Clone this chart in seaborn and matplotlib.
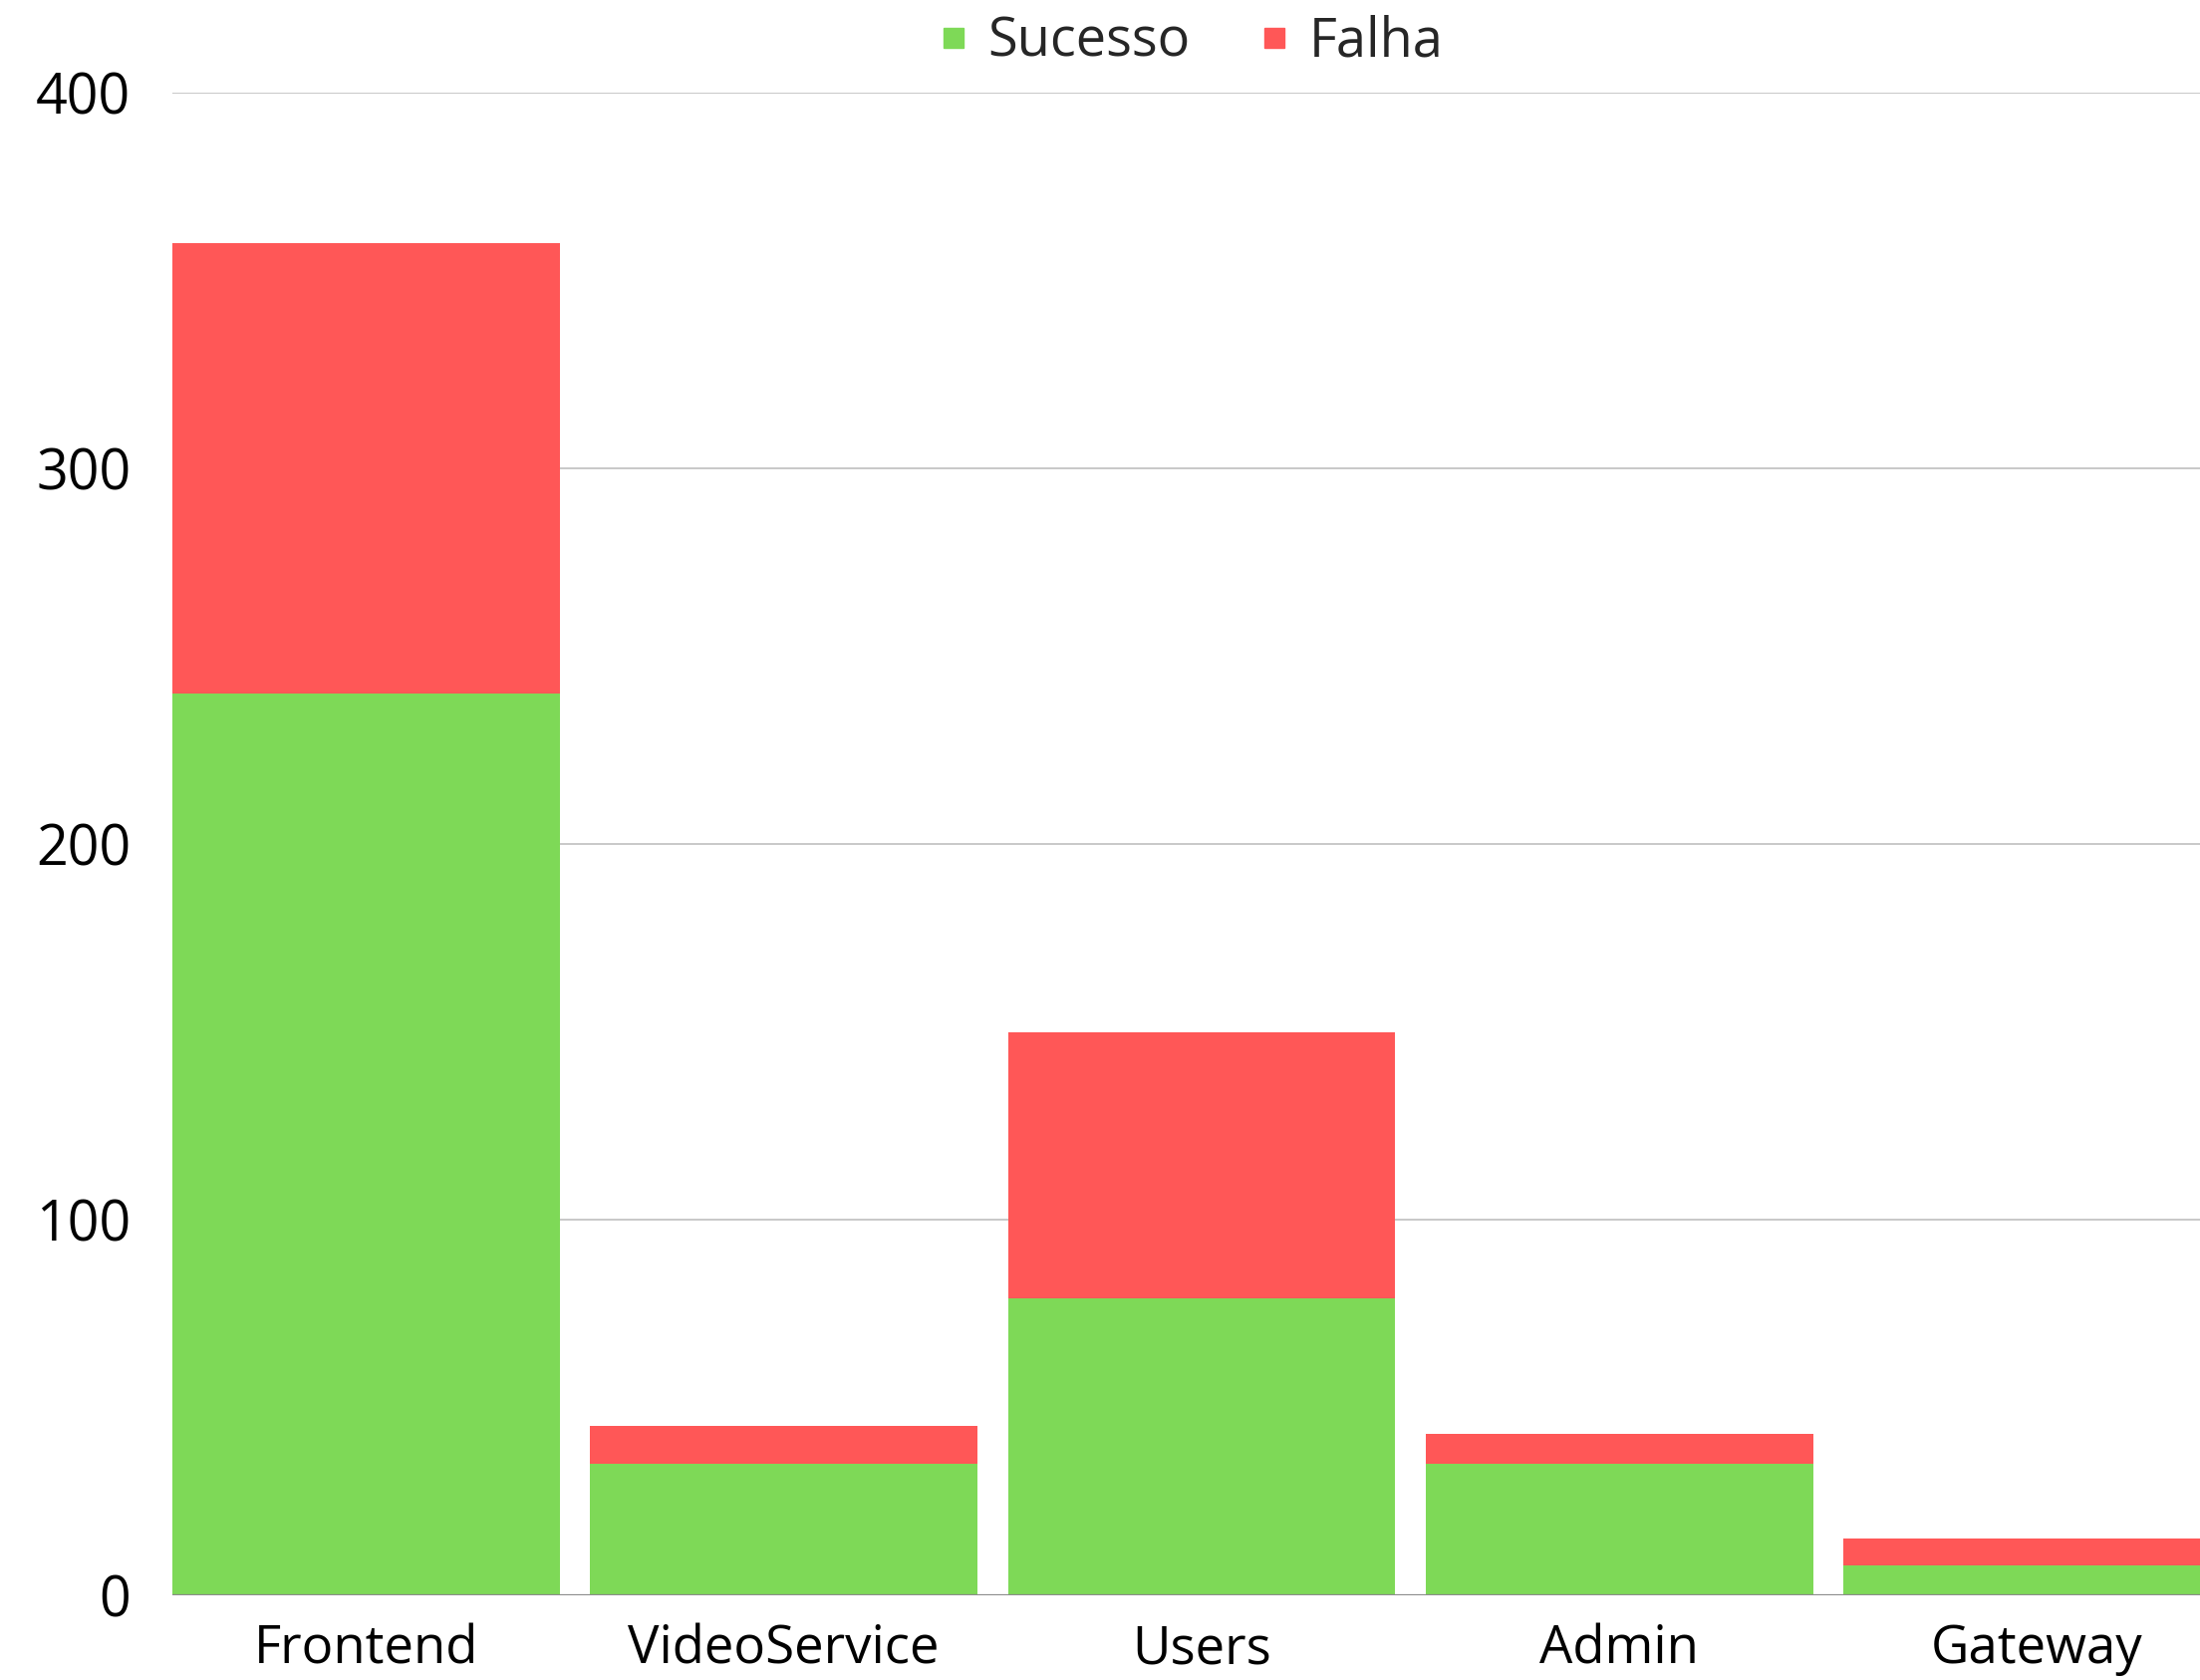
import pandas as pd
import seaborn as sns
import matplotlib.pyplot as plt
from matplotlib.lines import Line2D

servicos = ['Frontend', 'VideoService', 'Users', 'Admin', 'Gateway']
sucesso = [240, 35, 79, 35, 8]
falha = [120, 10, 71, 8, 7]
y_ticks = [0, 100, 200, 300, 400]

verde = '#7ED957'
vermelho = '#FF5757'

sns.set_theme(style='white')
plt.rcParams['font.family'] = ['Open Sans', 'DejaVu Sans']

df = pd.DataFrame({'Servico': servicos, 'Sucesso': sucesso, 'Falha': falha})
df['Total'] = df['Sucesso'] + df['Falha']

fig = plt.figure(figsize=(22.08, 16.86), dpi=100)
ax = fig.add_axes([173 / 2208, 1 - 1601 / 1686, 1 - 173 / 2208, (1601 - 93) / 1686])

largura = 0.927
# falha empilhada em cima do sucesso: desenha o total primeiro
sns.barplot(data=df, x='Servico', y='Total', color=vermelho, saturation=1,
            width=largura, linewidth=0, ax=ax, zorder=2)
sns.barplot(data=df, x='Servico', y='Sucesso', color=verde, saturation=1,
            width=largura, linewidth=0, ax=ax, zorder=3)

ax.set_xlim(-largura / 2, 4.39)
ax.set_ylim(0, 400)
ax.set_yticks(y_ticks)
ax.set_yticklabels([str(v) for v in y_ticks])
ax.set_xlabel('')
ax.set_ylabel('')

for v in y_ticks[1:]:
    ax.axhline(v, color='#c8c8c8', lw=1.4, zorder=1)
ax.axhline(0, color='#8c8c8c', lw=1.6, zorder=4)

for s in ax.spines.values():
    s.set_visible(False)
ax.tick_params(axis='both', length=0, labelsize=40, colors='black')
ax.tick_params(axis='y', pad=30)
ax.tick_params(axis='x', pad=20, labelsize=38)

handles = [Line2D([], [], marker='s', ls='', color=verde, markersize=14.4),
           Line2D([], [], marker='s', ls='', color=vermelho, markersize=14.4)]
fig.legend(handles, ['Sucesso', 'Falha'], loc='center', ncol=2, frameon=False,
           bbox_to_anchor=(1196 / 2208, 1 - 42 / 1686), fontsize=39,
           handlelength=0.5, handletextpad=0.4, columnspacing=1.3)

fig.savefig('out.png', dpi=100)
